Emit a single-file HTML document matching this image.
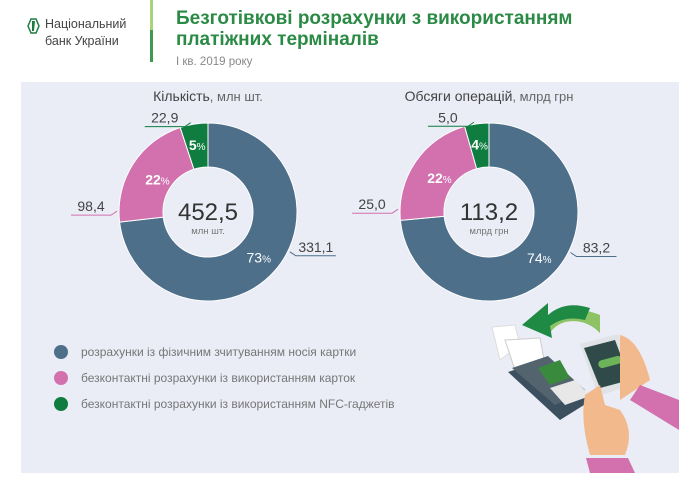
<!DOCTYPE html>
<html><head><meta charset="utf-8"><style>
body{margin:0;width:700px;height:495px;background:#fff;overflow:hidden;font-family:"Liberation Sans","DejaVu Sans",sans-serif;}
</style></head><body>
<svg width="700" height="495" viewBox="0 0 700 495" xmlns="http://www.w3.org/2000/svg">
<rect x="21" y="82" width="658" height="391" fill="#eaecf6"/>
<g>
<path d="M28 26 L31 19 L36 19 L39 26 L36 33 L31 33 Z" fill="none" stroke="#1e7d3e" stroke-width="1.5"/>
<path d="M32 21 L35 21 L34 31 L32 31 Z" fill="#1e7d3e"/>
<text x="45" y="28" font-size="12.5" fill="#444">Національний</text>
<text x="45" y="45" font-size="12.5" fill="#444">банк України</text>
</g>
<rect x="150" y="0" width="3" height="62" fill="#3f9a4f"/>
<rect x="150" y="0" width="3" height="30" fill="#a9d37a"/>
<text x="176" y="24" font-size="19" font-weight="bold" fill="#2b8a45">Безготівкові розрахунки з використанням</text>
<text x="176" y="45" font-size="19" font-weight="bold" fill="#2b8a45">платіжних терміналів</text>
<text x="176" y="65" font-size="11.5" fill="#888">І кв. 2019 року</text>
<g id="charts"></g>
<g>
<circle cx="61" cy="352" r="7" fill="#4d6f8a"/><text x="81" y="356" font-size="12" fill="#777">розрахунки із фізичним зчитуванням носія картки</text>
<circle cx="61" cy="378" r="7" fill="#d271ae"/><text x="81" y="382" font-size="12" fill="#777">безконтактні розрахунки із використанням карток</text>
<circle cx="61" cy="404" r="7" fill="#0e7d3f"/><text x="81" y="408" font-size="12" fill="#777">безконтактні розрахунки із використанням NFC-гаджетів</text>
</g>
<g>
<path d="M545 333 Q565 300 600 315 L600 333 Q585 318 565 322 Q555 325 550 333 Z" fill="#8dc265"/>
<path d="M590 308 Q565 300 548 315 L548 303 L522 325 L552 338 L550 326 Q565 315 585 320 Z" fill="#1e8a44"/>
<path d="M492 327 L515 325 L520 345 L500 360 Z" fill="#fff" stroke="#ddd"/>
<path d="M505 340 L540 338 L545 365 L515 370 Z" fill="#fff" stroke="#ccc"/>
<path d="M508 372 L545 360 L592 400 L560 420 Z" fill="#3b4f5f"/>
<path d="M512 368 L548 356 L585 390 L555 405 Z" fill="#54646f"/>
<path d="M538 368 L560 360 L570 378 L550 385 Z" fill="#3a8a3e"/>
<path d="M550 388 L575 380 L590 396 L565 405 Z" fill="#e8e8e8"/>
<path d="M580 344 L618 334 L636 384 L598 396 Z" fill="#dfe3e6"/>
<path d="M584 348 L615 340 L630 380 L600 388 Z" fill="#2f4a48"/>
<rect x="598" y="358" width="24" height="8" rx="4" fill="#6cb35a" transform="rotate(-15 610 362)"/>
<path d="M620 335 Q640 340 650 380 L620 400 Z" fill="#f2b98d"/>
<path d="M640 385 L679 400 L679 430 L630 400 Z" fill="#d271ae"/>
<path d="M585 395 Q580 420 590 455 L625 455 Q635 430 620 410 L605 405 L600 385 Z" fill="#f2b98d"/>
<path d="M586 458 L628 458 L635 473 L590 473 Z" fill="#d271ae"/>
</g>
<script>
var categories=["physical","contactless-cards","nfc"];
var colors=["#4d6f8a","#d271ae","#0e7d3f"];
var countValues=[331.1,98.4,22.9];
var countPct=[73,22,5];
var volumeValues=[83.2,25.0,5.0];
var volumePct=[74,22,4];
var anchorFrac=[0.44,0.09,0.4];
var charts=[
 {cx:208,cy:212,title:"Кількість",unit:", млн шт.",total:"452,5",sub:"млн шт.",vals:countValues,pct:countPct,name:"count"},
 {cx:489,cy:212,title:"Обсяги операцій",unit:", млрд грн",total:"113,2",sub:"млрд грн",vals:volumeValues,pct:volumePct,name:"volume"}
];
var NS="http://www.w3.org/2000/svg",root=document.getElementById("charts");
function mk(t,a,p){var e=document.createElementNS(NS,t);for(var k in a)e.setAttribute(k,a[k]);(p||root).appendChild(e);return e;}
function fmt(v){return v.toFixed(1).replace(".",",");}
charts.forEach(function(c){
 var R=89,r=45,sum=c.vals.reduce(function(a,b){return a+b;},0),a0=0;
 var g=mk("g",{});
 
 
 var t=mk("text",{x:c.cx,y:101,"text-anchor":"middle","font-size":"14",fill:"#444"},g);
 t.appendChild(document.createTextNode(c.title));
 var ts=mk("tspan",{fill:"#666","font-size":"13"},t);ts.textContent=c.unit;
 
 
 c.vals.forEach(function(v,i){
  var a1=a0+v/sum*2*Math.PI;
  function pt(rad,a){return [c.cx+rad*Math.sin(a),c.cy-rad*Math.cos(a)];}
  var p1=pt(R,a0),p2=pt(R,a1),p3=pt(r,a1),p4=pt(r,a0),lg=(a1-a0)>Math.PI?1:0;
  var s=mk("path",{d:"M"+p1+" A"+R+" "+R+" 0 "+lg+" 1 "+p2+" L"+p3+" A"+r+" "+r+" 0 "+lg+" 0 "+p4+"Z",fill:colors[i],stroke:"#fff","stroke-width":"1"},g);
  
  
  var am=(a0+a1)/2,lp=pt(i==1?60:68,am);
  var pl=mk("text",{x:lp[0],y:lp[1]+5,"text-anchor":"middle","font-size":"14",fill:"#fff","font-weight":i==0?"normal":"bold"},g);
  pl.appendChild(document.createTextNode(c.pct[i]));
  var pt2=mk("tspan",{"font-size":"10","font-weight":"normal"},pl);pt2.textContent="%";
  
  
  var aa=a0+(a1-a0)*anchorFrac[i],ep=pt(R+2,aa),left=Math.sin(aa)<0;
  var lx=left?ep[0]-6:ep[0]+6,ly=ep[1]+(i==1?4:4),ex=left?lx-40:lx+40;
  mk("polyline",{points:ep+" "+lx+","+ly+" "+ex+","+ly,fill:"none",stroke:colors[i],"stroke-width":"1"},g);
  var vl=mk("text",{x:(lx+ex)/2,y:ly-4,"text-anchor":"middle","font-size":"14",fill:"#444"},g);
  vl.textContent=fmt(v);
  
  
  a0=a1;
 });
 var tt=mk("text",{x:c.cx,y:c.cy+8,"text-anchor":"middle","font-size":"24",fill:"#333"},g);
 tt.textContent=c.total;
 
 
 var su=mk("text",{x:c.cx,y:c.cy+22,"text-anchor":"middle","font-size":"9.5",fill:"#777"},g);
 su.textContent=c.sub;
 
 
});
</script>
</svg>
</body></html>
